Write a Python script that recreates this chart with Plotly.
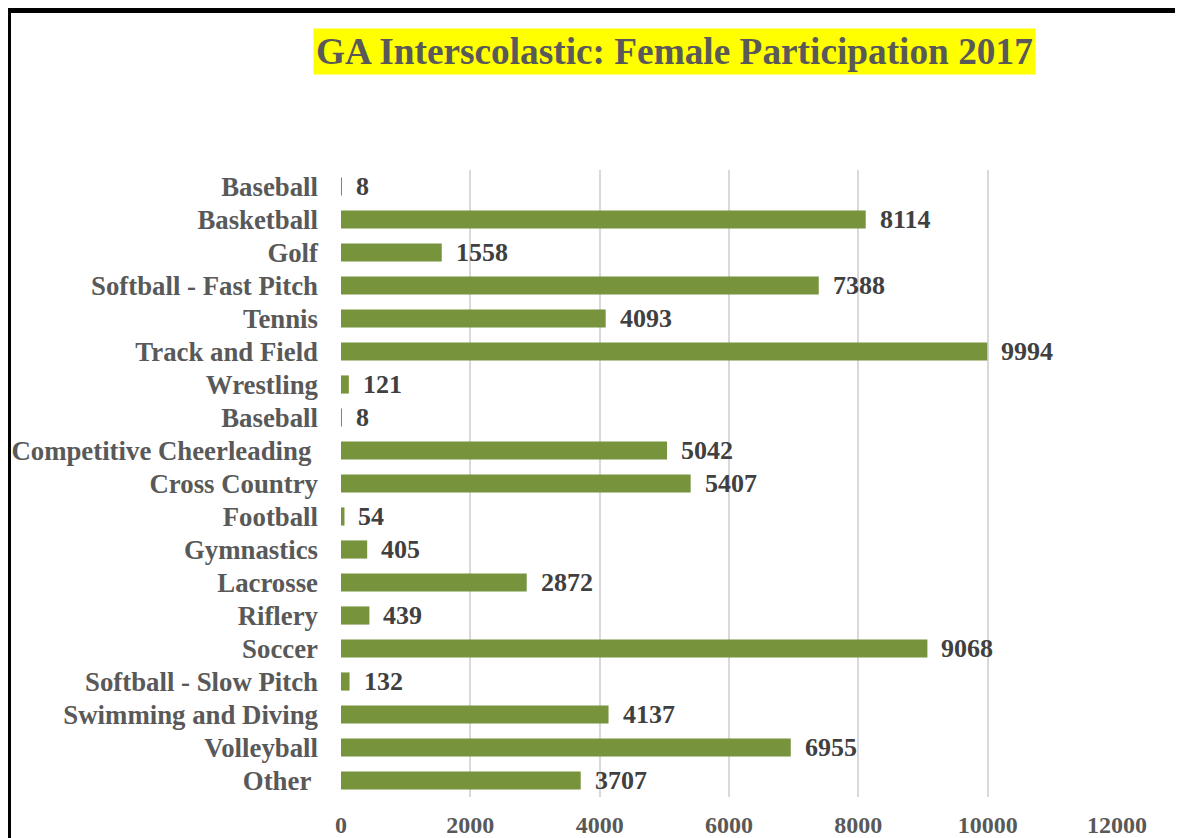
import plotly.graph_objects as go

categories = ["Baseball", "Basketball", "Golf", "Softball - Fast Pitch", "Tennis",
              "Track and Field", "Wrestling", "Baseball", "Competitive Cheerleading\u00a0",
              "Cross Country", "Football", "Gymnastics", "Lacrosse", "Riflery", "Soccer",
              "Softball - Slow Pitch", "Swimming and Diving", "Volleyball", "Other\u00a0"]
values = [8, 8114, 1558, 7388, 4093, 9994, 121, 8, 5042, 5407, 54, 405, 2872, 439,
          9068, 132, 4137, 6955, 3707]
x_ticks = [0, 2000, 4000, 6000, 8000, 10000, 12000]
title = "GA Interscolastic: Female Participation 2017"

positions = list(range(len(categories)))
FONT = "Liberation Serif, Times New Roman, serif"

# page has an 8px body margin; figure occupies page pixels 8..1183 x 8..838
OFF = 8
W, H = 1175, 830
L, R, T, B = 341 - OFF, 1183 - 1117, 170 - OFF, 838 - 797
pw, ph = W - L - R, H - T - B


def px(xp):
    return (xp - OFF - L) / pw


def py(yp):
    return (H - B - (yp - OFF)) / ph


fig = go.Figure()
fig.add_trace(go.Bar(
    x=values, y=positions, orientation="h",
    marker=dict(color="#77933C", line=dict(width=0)),
    width=0.55, showlegend=False, hoverinfo="x+y",
))

for p, v in zip(positions, values):
    fig.add_annotation(x=v, y=p, xref="x", yref="y", text=f"<b>{v}</b>",
                       showarrow=False, xanchor="left", yanchor="middle", xshift=12,
                       font=dict(family=FONT, size=26, color="#404040"))

fig.add_annotation(x=px(674), y=py(51.5), xref="paper", yref="paper", text=f"<b>{title}</b>",
                   showarrow=False, bgcolor="#FFFF00", borderpad=2,
                   xanchor="center", yanchor="middle",
                   font=dict(family=FONT, size=37.3, color="#595959"))

# border lines
fig.add_shape(type="line", xref="paper", yref="paper", x0=px(6), x1=px(1190),
              y0=py(10.5), y1=py(10.5), line=dict(color="black", width=5))
fig.add_shape(type="line", xref="paper", yref="paper", x0=px(8.5), x1=px(8.5),
              y0=py(8), y1=py(845), line=dict(color="black", width=5))

fig.update_layout(
    width=W, height=H,
    margin=dict(l=L, r=R, t=T, b=B, autoexpand=False),
    paper_bgcolor="white", plot_bgcolor="white",
    font=dict(family=FONT, color="#595959"),
)
fig.update_xaxes(range=[0, 12000], tickvals=x_ticks, ticktext=[f"<b>{t}</b>" for t in x_ticks],
                 showgrid=True, gridcolor="#D9D9D9", gridwidth=1.5, zeroline=False,
                 showline=False, ticklabelstandoff=11, automargin=False,
                 tickfont=dict(family=FONT, size=24, color="#595959"))
fig.update_yaxes(range=[len(categories) - 0.5, -0.5], tickvals=positions,
                 ticktext=[f"<b>{c}</b>" for c in categories],
                 showgrid=False, zeroline=False, showline=False, ticklabelstandoff=22,
                 automargin=False,
                 tickfont=dict(family=FONT, size=26.8, color="#595959"))

fig.write_html("out.html")
